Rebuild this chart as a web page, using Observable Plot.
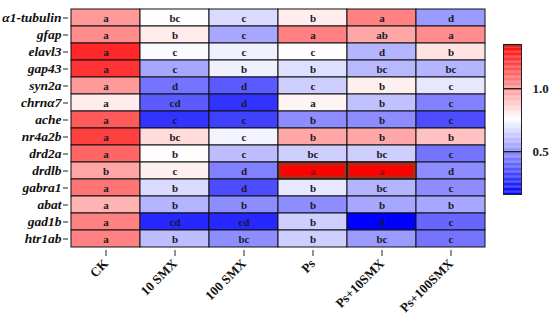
<!DOCTYPE html>
<html>
<head>
<meta charset="utf-8">
<script src="https://cdn.jsdelivr.net/npm/d3@7"></script>
<script src="https://cdn.jsdelivr.net/npm/@observablehq/plot@0.6"></script>
<style>
  html, body { margin: 0; padding: 0; background: #fff; }
  #wrap { position: relative; width: 550px; height: 321px; }
  #legend { position: absolute; left: 490px; top: 34px; }
  #main { position: absolute; left: 0; top: 0; }
  #wrap svg, #wrap svg text { font-family: "Liberation Serif", "Times New Roman", serif !important; font-weight: bold; }
</style>
</head>
<body>
<div id="wrap"><div id="main"></div><div id="legend"></div></div>
<script>
const genes = ["α1-tubulin","gfap","elavl3","gap43","syn2a","chrnα7","ache","nr4a2b","drd2a","drdlb","gabra1","abat","gad1b","htr1ab"];
const groups = ["CK","10 SMX","100 SMX","Ps","Ps+10SMX","Ps+100SMX"];

// relative expression per gene (rows) for each group (columns)
const values = [
  [0.99, 0.76, 0.67, 0.80, 1.05, 0.52],
  [1.02, 0.80, 0.55, 1.05, 0.96, 1.02],
  [1.26, 0.74, 0.72, 0.76, 0.58, 0.82],
  [1.23, 0.55, 0.72, 0.68, 0.59, 0.58],
  [0.99, 0.43, 0.37, 0.64, 0.79, 0.70],
  [0.80, 0.37, 0.28, 0.78, 0.61, 0.46],
  [1.14, 0.28, 0.31, 0.49, 0.49, 0.34],
  [1.20, 0.84, 0.73, 0.96, 0.96, 0.90],
  [1.11, 0.76, 0.60, 0.64, 0.64, 0.43],
  [0.96, 0.79, 0.46, 1.40, 1.40, 0.49],
  [1.08, 0.67, 0.34, 0.70, 0.58, 0.49],
  [0.93, 0.58, 0.49, 0.49, 0.55, 0.55],
  [1.05, 0.25, 0.25, 0.64, 0.16, 0.40],
  [1.05, 0.60, 0.49, 0.64, 0.52, 0.43]
];

// significance letters
const letters = [
  ["a","bc","c","b","a","d"],
  ["a","b","c","a","ab","a"],
  ["a","c","c","c","d","b"],
  ["a","c","b","b","bc","bc"],
  ["a","d","d","c","b","c"],
  ["a","cd","d","a","b","c"],
  ["a","c","c","b","b","c"],
  ["a","bc","c","b","b","b"],
  ["a","b","c","bc","bc","c"],
  ["b","c","d","a","a","d"],
  ["a","b","d","b","bc","c"],
  ["a","b","b","b","b","b"],
  ["a","cd","cd","b","d","c"],
  ["a","b","bc","b","bc","c"]
];

const colorDomain = [0.16, 0.755, 1.35];
const colorRange = ["#0000ff", "#ffffff", "#ff0000"];
const legendTicks = [0.5, 1.0];

const table = [];
genes.forEach((g, i) => groups.forEach((c, j) => {
  table.push({gene: g, group: c, value: values[i][j], letter: letters[i][j]});
}));

const serif = "Liberation Serif";

const chart = Plot.plot({
  width: 550,
  height: 321,
  marginLeft: 68,
  marginRight: 63,
  marginTop: 5,
  marginBottom: 71,
  style: "font-family: 'Liberation Serif', serif; font-weight: bold; background: white; color: #111;",
  x: {domain: groups, padding: 0, label: null},
  y: {domain: genes, padding: 0, label: null},
  color: {type: "linear", domain: colorDomain, range: colorRange, clamp: true},
  marks: [
    Plot.cell(table, {x: "group", y: "gene", fill: "value", stroke: "#111", strokeWidth: 1, inset: 0}),
    Plot.cell(table.filter(d => d.value > colorDomain[2]), {x: "group", y: "gene", fill: "none", stroke: "#a8301a", strokeWidth: 3, insetTop: 2, insetBottom: 2, insetLeft: 1.5, insetRight: 1.5}),
    Plot.cell(table.filter(d => d.value > colorDomain[2]), {x: "group", y: "gene", fill: "none", stroke: "#111", strokeWidth: 1, inset: 0}),
    Plot.text(table, {x: "group", y: "gene", text: "letter", fontFamily: serif, fontSize: 11, fontWeight: "bold", fill: d => d.value > colorDomain[2] ? "#8a1010" : "#1a1a2a", dy: 0.5}),
    Plot.axisY({tickSize: 5, tickPadding: 2, fontFamily: serif, fontSize: 13.5, fontStyle: "italic", fontWeight: "bold", stroke: "#222", label: null}),
    Plot.axisX({tickSize: 6, tickPadding: 5, tickRotate: -45, fontFamily: serif, fontSize: 13, fontWeight: "bold", stroke: "#222", label: null})
  ]
});
document.getElementById("main").appendChild(chart);

// vertical color bar legend
const legendSteps = d3.range(0, 120).map(i => colorDomain[0] + (colorDomain[2] - colorDomain[0]) * i / 120);
const step = (colorDomain[2] - colorDomain[0]) / 120;
const legend = Plot.plot({
  width: 60,
  height: 164,
  marginLeft: 13,
  marginRight: 29,
  marginTop: 10,
  marginBottom: 4,
  style: "font-family: 'Liberation Serif', serif; font-weight: bold; background: transparent; color: #222;",
  x: {domain: [0, 1], axis: null},
  y: {domain: [colorDomain[0], colorDomain[2]], axis: null},
  color: {type: "linear", domain: colorDomain, range: colorRange},
  marks: [
    Plot.rect(legendSteps, {x1: 0, x2: 1, y1: d => d, y2: d => d + step * 1.05, fill: d => d + step / 2}),
    Plot.rect([0], {x1: 0, x2: 1, y1: colorDomain[2] - 0.02, y2: colorDomain[2], fill: "#a8301a"}),
    Plot.frame({stroke: "#222", strokeWidth: 1}),
    Plot.tickY(legendTicks, {y: d => d, x1: 0, x2: 0.3, stroke: "#222", strokeWidth: 1.2}),
    Plot.tickY(legendTicks, {y: d => d, x1: 0.7, x2: 1, stroke: "#222", strokeWidth: 1.2}),
    Plot.text(legendTicks, {y: d => d, x: 1, text: d => d.toFixed(1), dx: 11, textAnchor: "start", fontFamily: serif, fontSize: 13, fontWeight: "bold", fill: "#222"})
  ]
});
document.getElementById("legend").appendChild(legend);
</script>
</body>
</html>
